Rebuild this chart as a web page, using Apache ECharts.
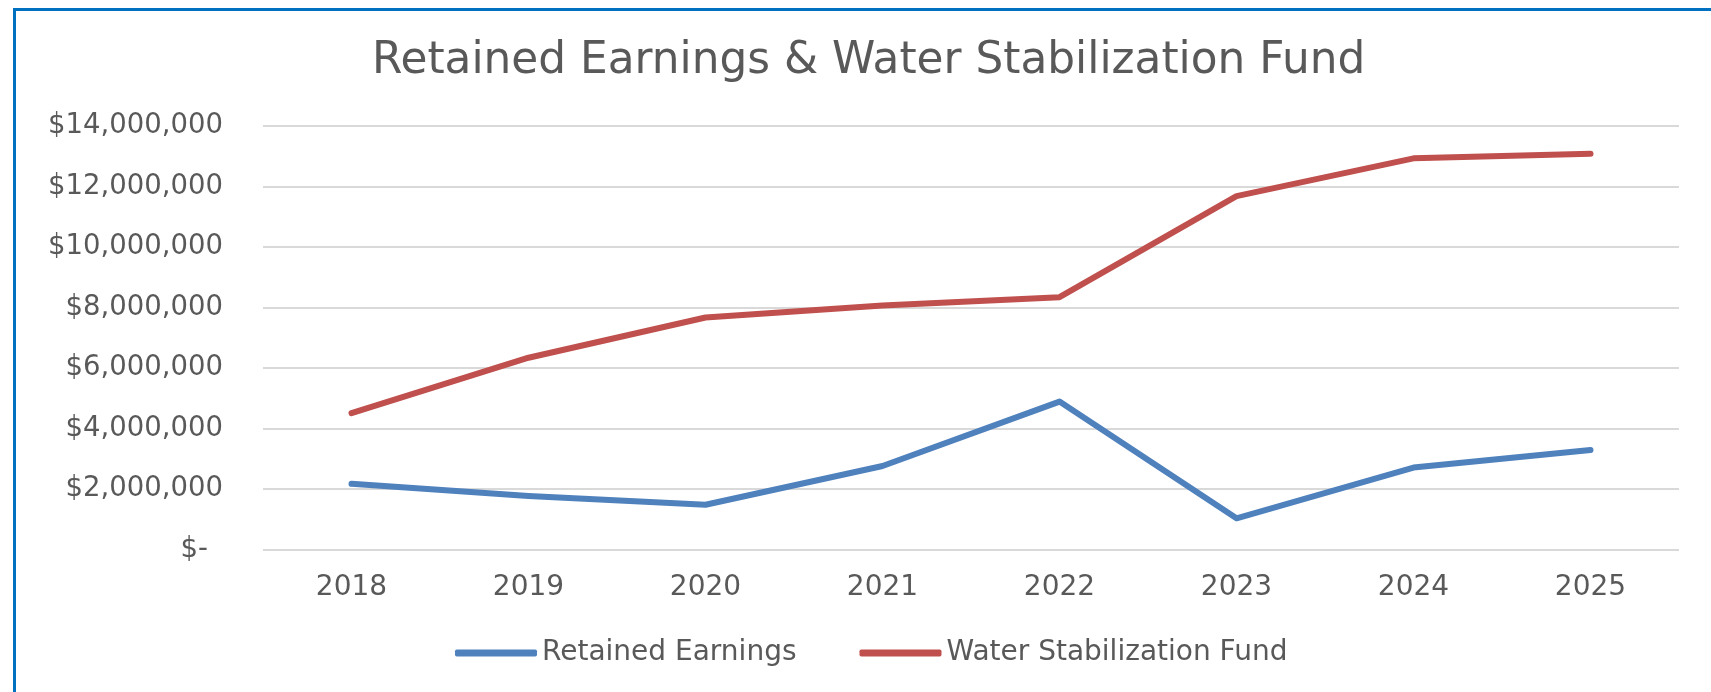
<!DOCTYPE html>
<html>
<head>
<meta charset="utf-8">
<style>
  html, body { margin: 0; padding: 0; background: #fff; }
  #chart { width: 1711px; height: 692px; }
</style>
<script src="https://cdn.jsdelivr.net/npm/echarts@6/dist/echarts.min.js"></script>
</head>
<body>
<div id="chart"></div>
<script>
const years = ['2018', '2019', '2020', '2021', '2022', '2023', '2024', '2025'];
const retainedEarnings = [2170000, 1770000, 1480000, 2760000, 4890000, 1030000, 2710000, 3290000];
const stabilizationFund = [4510000, 6340000, 7670000, 8070000, 8340000, 11680000, 12930000, 13080000];

const TEXT_COLOR = '#595959';
const SERIES_COLOR = ['#4F81BD', '#C0504D'];
const FONT = 'DejaVu Sans';

const chart = echarts.init(document.getElementById('chart'));

// accounting style: $14,000,000 and "$-" for zero
function moneyLabel(value) {
  if (value === 0) {
    return '{z|$-}';
  }
  return '$' + value.toLocaleString('en-US');
}

const option = {
  color: SERIES_COLOR,
  animation: false,
  title: {
    text: 'Retained Earnings & Water Stabilization Fund',
    left: 367,
    top: 35,
    textStyle: {
      fontFamily: FONT,
      fontWeight: 'normal',
      fontSize: 43.8,
      color: TEXT_COLOR
    }
  },
  legend: {
    left: 450,
    top: 634,
    icon: 'roundRect',
    itemWidth: 82,
    itemHeight: 7,
    itemGap: 63,
    textStyle: {
      fontFamily: FONT,
      fontSize: 28,
      color: TEXT_COLOR
    }
  },
  grid: {
    left: 263,
    right: 32,
    top: 126,
    bottom: 142.5
  },
  xAxis: {
    type: 'category',
    data: years,
    boundaryGap: true,
    axisLine: {show: false},
    axisTick: {show: false},
    axisLabel: {
      margin: 24,
      fontFamily: FONT,
      fontSize: 28,
      color: TEXT_COLOR
    }
  },
  yAxis: {
    type: 'value',
    min: 0,
    max: 14000000,
    interval: 2000000,
    axisLine: {show: false},
    axisTick: {show: false},
    splitLine: {lineStyle: {color: '#D9D9D9', width: 2}},
    axisLabel: {
      margin: 40,
      fontFamily: FONT,
      fontSize: 27.5,
      color: TEXT_COLOR,
      formatter: moneyLabel,
      rich: {
        z: {
          fontFamily: FONT,
          fontSize: 27.5,
          color: TEXT_COLOR,
          padding: [0, 15, 0, 0]
        }
      }
    }
  },
  series: [
    {
      name: 'Retained Earnings',
      type: 'line',
      data: retainedEarnings,
      showSymbol: false,
      symbol: 'none',
      lineStyle: {width: 6, cap: 'round', join: 'round'}
    },
    {
      name: 'Water Stabilization Fund',
      type: 'line',
      data: stabilizationFund,
      showSymbol: false,
      symbol: 'none',
      lineStyle: {width: 6, cap: 'round', join: 'round'}
    }
  ],
  graphic: [
    {
      type: 'rect',
      silent: true,
      shape: {x: 14.5, y: 9.5, width: 1800, height: 800},
      style: {fill: 'none', stroke: '#0070C0', lineWidth: 3}
    }
  ]
};

chart.setOption(option);
</script>
</body>
</html>
